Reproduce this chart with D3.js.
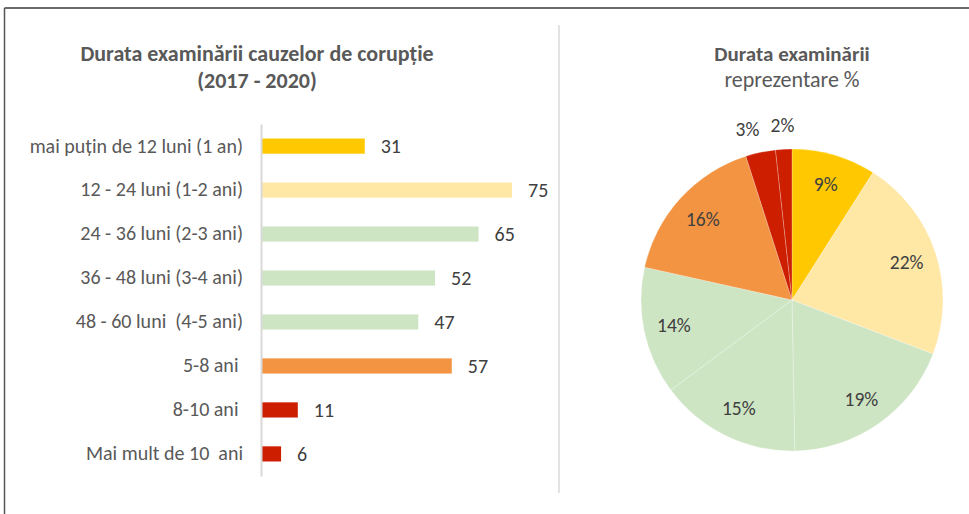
<!DOCTYPE html>
<html lang="ro">
<head>
<meta charset="utf-8">
<title>Durata examinării cauzelor de corupție</title>
<style>
body{
  margin: 0;
  background: #fff;
}
text{
  font-family: Calibri, Carlito, "Open Sans", sans-serif;
}
</style>
</head>
<body>
<div id="chart"></div>
<script src="https://cdn.jsdelivr.net/npm/d3@7"></script>
<script>
// data
var categories = [
  "mai puțin de 12 luni (1 an)",
  "12 - 24 luni (1-2 ani)",
  "24 - 36 luni (2-3 ani)",
  "36 - 48 luni (3-4 ani)",
  "48 - 60 luni  (4-5 ani)",
  "5-8 ani ",
  "8-10 ani ",
  "Mai mult de 10  ani"
];
var counts = [31, 75, 65, 52, 47, 57, 11, 6];
var pctLabels = ["9%", "22%", "19%", "15%", "14%", "16%", "3%", "2%"];
var colors = ["#FFC800", "#FFE7A6", "#CEE5C4", "#CEE5C4", "#CEE5C4", "#F29442", "#CD1F00", "#CD1F00"];

var W = 969, H = 514;
var svg = d3.select("#chart").append("svg")
  .attr("width", W)
  .attr("height", H);

// frame (only top and left edges show)
svg.append("line").attr("x1", 4.5).attr("x2", W).attr("y1", 8).attr("y2", 8)
  .attr("stroke", "#3a3a3a").attr("stroke-width", 1.5);
svg.append("line").attr("x1", 4.5).attr("x2", 4.5).attr("y1", 8).attr("y2", H)
  .attr("stroke", "#555").attr("stroke-width", 1.5);

// divider between the two charts
svg.append("line").attr("x1", 559).attr("x2", 559).attr("y1", 25).attr("y2", 493)
  .attr("stroke", "#e3e3e3").attr("stroke-width", 2);

// ---------- bar chart ----------
var barLeft = 261, barTop = 124;
var x = d3.scaleLinear().domain([0, 75]).range([0, 251]);
var y = d3.scaleBand().domain(categories).range([0, 352]).paddingInner(0.655).paddingOuter(0.33);

var bars = svg.append("g").attr("transform", `translate(${barLeft}, ${barTop})`);

svg.append("text").attr("x", 257).attr("y", 61).attr("text-anchor", "middle")
  .attr("fill", "#595959").style("font-size", "22px").style("font-weight", "bold")
  .text("Durata examinării cauzelor de corupție");
svg.append("text").attr("x", 257).attr("y", 88).attr("text-anchor", "middle")
  .attr("fill", "#595959").style("font-size", "22px").style("font-weight", "bold")
  .text("(2017 - 2020)");

bars.selectAll("rect").data(counts)
  .enter().append("rect")
  .attr("x", 0)
  .attr("y", (d, i) => y(categories[i]))
  .attr("width", (d) => x(d))
  .attr("height", y.bandwidth())
  .attr("fill", (d, i) => colors[i]);

bars.selectAll(".val").data(counts)
  .enter().append("text")
  .attr("class", "val")
  .attr("x", (d) => x(d) + 16)
  .attr("y", (d, i) => y(categories[i]) + y.bandwidth() / 2)
  .attr("dy", "0.36em")
  .attr("fill", "#404040")
  .style("font-size", "20px")
  .text((d) => d);

var yAxis = d3.axisLeft(y).tickSize(0).tickPadding(18);
var ax = bars.append("g").call(yAxis);
ax.select(".domain").attr("stroke", "#d9d9d9").attr("stroke-width", 2);
ax.selectAll("text")
  .attr("fill", "#595959")
  .style("font-size", "20px")
  .style("font-family", "Calibri, Carlito, 'Open Sans', sans-serif")
  .style("white-space", "pre");

// ---------- pie chart ----------
var cx = 792, cy = 300, r = 151;

svg.append("text").attr("x", cx).attr("y", 61).attr("text-anchor", "middle")
  .attr("fill", "#595959").style("font-size", "21px").style("font-weight", "bold")
  .text("Durata examinării");
svg.append("text").attr("x", cx).attr("y", 87).attr("text-anchor", "middle")
  .attr("fill", "#595959").style("font-size", "22px")
  .text("reprezentare %");

var pie = d3.pie().sort(null).value((d) => d);
var arcs = pie(counts);
var arc = d3.arc().innerRadius(0).outerRadius(r);
var g = svg.append("g").attr("transform", `translate(${cx}, ${cy})`);

g.selectAll("path").data(arcs)
  .enter().append("path")
  .attr("d", arc)
  .attr("fill", (d, i) => colors[i])
  .attr("stroke", "#fff")
  .attr("stroke-width", 0.4)
  .attr("stroke-opacity", 0.6);

var inner = d3.arc().innerRadius(r * 0.8).outerRadius(r * 0.8);
var outer = d3.arc().innerRadius(r * 1.16).outerRadius(r * 1.16);

g.selectAll(".pct").data(arcs)
  .enter().append("text")
  .attr("class", "pct")
  .attr("transform", (d) => {
    var small = (d.endAngle - d.startAngle) < 0.25;
    var p = small ? outer.centroid(d) : inner.centroid(d);
    // spread the two small outside labels a little
    if (small) p[0] += (d.index === counts.length - 2) ? -8 : 0;
    return `translate(${p[0]}, ${p[1]})`;
  })
  .attr("text-anchor", "middle")
  .attr("dy", "0.36em")
  .attr("fill", "#404040")
  .style("font-size", "19.5px")
  .text((d, i) => pctLabels[i]);
</script>
</body>
</html>
